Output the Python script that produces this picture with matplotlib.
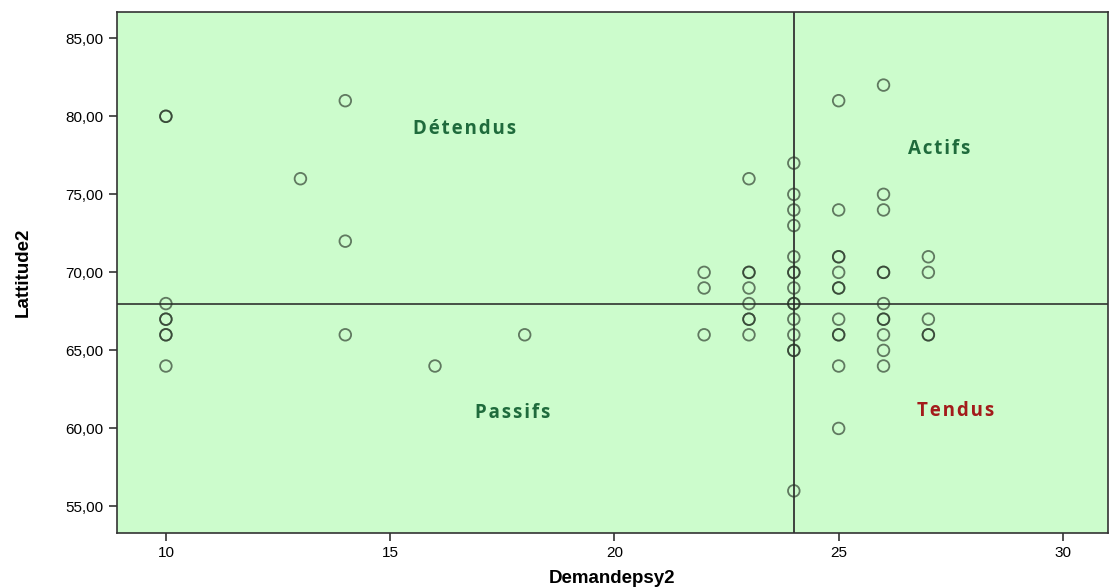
import matplotlib.pyplot as plt
from matplotlib.ticker import FuncFormatter

# Data (duplicates appear as darker circles)
demandepsy2 = [10, 10, 10, 10, 10, 10, 10, 10,
               13,
               14, 14, 14,
               16, 18,
               22, 22, 22,
               23, 23, 23, 23, 23, 23, 23, 23,
               24, 24, 24, 24, 24, 24, 24, 24, 24, 24, 24, 24, 24, 24, 24,
               25, 25, 25, 25, 25, 25, 25, 25, 25, 25, 25, 25,
               26, 26, 26, 26, 26, 26, 26, 26, 26, 26, 26,
               27, 27, 27, 27, 27]
lattitude2 = [80, 80, 68, 67, 67, 66, 66, 64,
              76,
              81, 72, 66,
              64, 66,
              70, 69, 66,
              76, 70, 70, 69, 68, 67, 67, 66,
              77, 75, 74, 73, 71, 70, 70, 69, 68, 68, 67, 66, 65, 65, 56,
              81, 74, 71, 71, 70, 69, 69, 67, 66, 66, 64, 60,
              82, 75, 74, 70, 70, 68, 67, 67, 66, 65, 64,
              71, 70, 67, 66, 66]

x_ref = 24
y_ref = 68

quadrants = ['Détendus', 'Actifs', 'Passifs', 'Tendus']
quad_x = [16.67, 27.25, 17.74, 27.6]
quad_y = [79.2, 77.9, 61.0, 61.1]
quad_colors = ['#1f6b3c', '#1f6b3c', '#1f6b3c', '#a31b1b']

plt.rcParams['font.family'] = ['Liberation Sans', 'DejaVu Sans']

fig = plt.figure(figsize=(11.1, 5.87), dpi=100)
ax = fig.add_axes([0.105, 0.092, 0.893, 0.888])
ax.set_facecolor('#ccfccc')

ax.scatter(demandepsy2, lattitude2, s=70, facecolors='none',
           edgecolors=(0.15, 0.2, 0.15, 0.65), linewidths=1.3, zorder=3)

ax.axvline(x_ref, color='#333333', lw=1.3, zorder=2)
ax.axhline(y_ref, color='#222222', lw=1.1, zorder=2)

for name, qx, qy, c in zip(quadrants, quad_x, quad_y, quad_colors):
    ax.text(qx, qy, '\u200a'.join(name), color=c, fontsize=13.5, fontweight='bold',
            ha='center', va='center', family=['Open Sans', 'DejaVu Sans'])

ax.set_xlim(8.9, 31.0)
ax.set_ylim(53.3, 86.7)
ax.set_xticks([10, 15, 20, 25, 30])
ax.set_yticks([55, 60, 65, 70, 75, 80, 85])
ax.yaxis.set_major_formatter(FuncFormatter(lambda v, p: f'{v:.2f}'.replace('.', ',')))
ax.tick_params(direction='out', length=6, width=1.2, labelsize=11, color='#333333')

for s in ax.spines.values():
    s.set_color('#333333')
    s.set_linewidth(1.2)

ax.set_xlabel('Demandepsy2', fontsize=13.5, fontweight='bold', labelpad=7)
ax.set_ylabel('Lattitude2', fontsize=13.5, fontweight='bold', labelpad=24)

fig.savefig('out.png', dpi=100)
